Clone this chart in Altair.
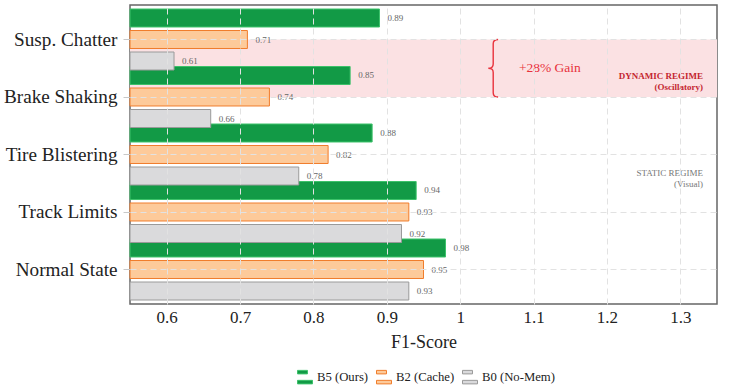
import altair as alt
import pandas as pd

# ---------------- data ----------------
categories = ["Susp. Chatter", "Brake Shaking", "Tire Blistering", "Track Limits", "Normal State"]
series = ["B5 (Ours)", "B2 (Cache)", "B0 (No-Mem)"]
b5_values = [0.89, 0.85, 0.88, 0.94, 0.98]
b2_values = [0.71, 0.74, 0.82, 0.93, 0.95]
b0_values = [0.61, 0.66, 0.78, 0.92, 0.93]
x_ticks = [0.6, 0.7, 0.8, 0.9, 1.0, 1.1, 1.2, 1.3]
x_limits = [0.55, 1.35]

# ---------------- styles ----------------
FONT = "Liberation Serif"
fills = ["#129a46", "#fdca9a", "#dadadc"]
strokes = ["#3cc26a", "#f07d2c", "#9a9a9a"]
RED = "#e8323c"
DARK_RED = "#c42630"
GRID = "#e2e2e2"

rows = []
for s, vals in zip(series, [b5_values, b2_values, b0_values]):
    for c, v in zip(categories, vals):
        rows.append({"category": c, "series": s, "value": v})
df = pd.DataFrame(rows)

# annotation table (positions in category-index space)
i_dyn0 = categories.index("Susp. Chatter")
i_dyn1 = categories.index("Brake Shaking")
i_static = categories.index("Tire Blistering")
regions = pd.DataFrame([{"y0": i_dyn0, "y1": i_dyn1, "x0": x_limits[0], "x1": x_limits[1]}])
ann = pd.DataFrame([
    {"kind": "gain", "x": 1.08, "y": (i_dyn0 + i_dyn1) / 2, "text": "+28% Gain"},
])
brace = pd.DataFrame([{"x": 1.045, "y": (i_dyn0 + i_dyn1) / 2}])
regime = pd.DataFrame([
    {"x": 1.331, "y": i_dyn0 + 0.64, "text": ["DYNAMIC REGIME", "(Oscillatory)"], "kind": "dyn"},
    {"x": 1.331, "y": i_static + 0.32, "text": ["STATIC REGIME", "(Visual)"], "kind": "static"},
])

n = len(categories)
yq_scale = alt.Scale(domain=[-0.6, n - 1 + 0.6], reverse=True, nice=False, zero=False)
x_scale = alt.Scale(domain=x_limits, zero=False, nice=False)

x_axis = alt.Axis(values=x_ticks, title="F1-Score", format="~g", grid=True, gridDash=[6, 4],
                  gridColor=GRID, gridWidth=1, ticks=False, domain=False,
                  labelFont=FONT, labelFontSize=17, labelColor="#222", labelPadding=5,
                  titleFont=FONT, titleFontSize=18, titleFontWeight="normal", titleColor="#222",
                  titlePadding=8, zindex=1)

# ---------------- annotation layer (quantitative y) ----------------
rect = alt.Chart(regions).mark_rect(color="#fbe1e3").encode(
    x=alt.X("x0:Q", scale=x_scale, axis=x_axis),
    x2="x1:Q",
    y=alt.Y("y0:Q", scale=yq_scale,
            axis=alt.Axis(orient="right", values=list(range(n)), labels=False, ticks=True,
                          tickSize=7, tickColor="#c8c8c8", domain=False, grid=False, title=None)),
    y2="y1:Q",
)

BRACE = "M0.17,-1 Q0,-1 0,-0.85 L0,-0.15 Q0,0 -0.17,0 Q0,0 0,0.15 L0,0.85 Q0,1 0.17,1"
brace_mark = alt.Chart(brace).mark_point(shape=BRACE, size=3300, filled=False, stroke=RED,
                                         strokeWidth=1.4, opacity=1).encode(
    x=alt.X("x:Q", scale=x_scale),
    y=alt.Y("y:Q", scale=yq_scale, axis=None),
)

gain = alt.Chart(ann).mark_text(align="left", baseline="middle", font=FONT, fontSize=13.5,
                                color=RED).encode(
    x=alt.X("x:Q", scale=x_scale),
    y=alt.Y("y:Q", scale=yq_scale, axis=None),
    text="text:N",
)

dyn = alt.Chart(regime).transform_filter(alt.datum.kind == "dyn").mark_text(
    align="right", baseline="middle", font=FONT, fontSize=9, fontWeight="bold",
    color=DARK_RED, lineHeight=11).encode(
    x=alt.X("x:Q", scale=x_scale),
    y=alt.Y("y:Q", scale=yq_scale, axis=None),
    text="text",
)
static = alt.Chart(regime).transform_filter(alt.datum.kind == "static").mark_text(
    align="right", baseline="middle", font=FONT, fontSize=9,
    color="#777", lineHeight=11).encode(
    x=alt.X("x:Q", scale=x_scale),
    y=alt.Y("y:Q", scale=yq_scale, axis=None),
    text="text",
)

ann_layer = alt.layer(rect, brace_mark, gain, dyn, static)

# ---------------- bar layer (band y) ----------------
y_enc = alt.Y("category:N", sort=categories,
              scale=alt.Scale(paddingInner=0, paddingOuter=0.1),
              axis=alt.Axis(title=None, grid=True, gridDash=[6, 4], gridColor=GRID,
                            ticks=True, tickSize=7, tickColor="#c8c8c8", domain=False,
                            labelFont=FONT, labelFontSize=19.2, labelColor="#222",
                            labelPadding=6, zindex=1))
yoff = alt.YOffset("series:N", sort=series,
                   scale=alt.Scale(range=[-1.75, 59.25], paddingInner=0.163, paddingOuter=0))

legend = alt.Legend(title=None, orient="none", legendX=167, legendY=364, direction="horizontal",
                    symbolType="M-1,-0.9H0.33V-0.43H-1Z M-1,0.43H1V0.9H-1Z", symbolSize=225,
                    symbolStrokeWidth=1, labelFont=FONT, labelFontSize=12.7, labelColor="#222",
                    labelOffset=4, columnPadding=5, padding=0)

bars = alt.Chart(df).mark_bar(strokeWidth=1).encode(
    x=alt.X("value:Q", scale=x_scale),
    x2=alt.X2(datum=x_limits[0]),
    y=y_enc,
    yOffset=yoff,
    fill=alt.Fill("series:N", sort=series, scale=alt.Scale(domain=series, range=fills), legend=legend),
    stroke=alt.Stroke("series:N", sort=series, scale=alt.Scale(domain=series, range=strokes), legend=legend),
)

labels = alt.Chart(df).mark_text(align="left", baseline="middle", dx=8, font=FONT, fontSize=9,
                                 color="#666").encode(
    x=alt.X("value:Q", scale=x_scale),
    y=alt.Y("category:N", sort=categories, scale=alt.Scale(paddingInner=0, paddingOuter=0.1)),
    yOffset=yoff,
    text=alt.Text("value:Q", format=".2f"),
)

bar_layer = alt.layer(bars, labels)

chart = alt.layer(ann_layer, bar_layer).resolve_scale(y="independent").properties(
    width=587, height=299,
    padding={"left": 130, "top": 5, "right": 12, "bottom": 86},
    autosize=alt.AutoSizeParams(type="none"),
    background="white",
).configure_view(stroke="#666", strokeWidth=1.5)

chart.save("out.html", embed_options={"renderer": "svg", "actions": False})
